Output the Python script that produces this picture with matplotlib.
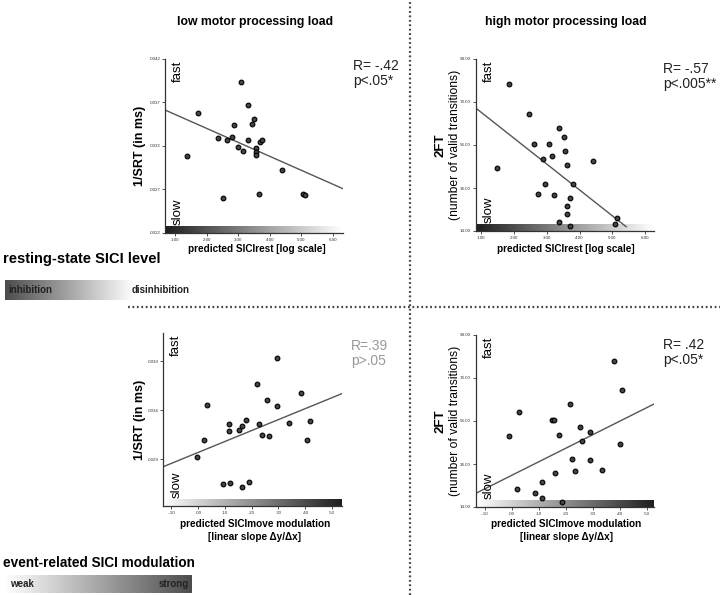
import numpy as np
import matplotlib
matplotlib.use("Agg")
import matplotlib.pyplot as plt
from matplotlib.lines import Line2D

plt.rcParams['font.family'] = ['Liberation Sans', 'DejaVu Sans']

# ---- data ----
# low motor load, resting-state SICI vs 1/SRT
rest_x_low = [1.37, 1.74, 2.51, 2.37, 2.66, 2.79, 2.86, 2.99, 3.09, 3.15, 3.30, 3.32,
              3.45, 3.51, 3.55, 3.56, 3.56, 3.65, 3.69, 3.75, 4.38, 5.06, 5.12]
srt_rest = [.003087, .003584, .002608, .00329, .003272, .003298, .003445, .003191,
            .003938, .003145, .003668, .003264, .003452, .00351, .003179, .003128,
            .003094, .002654, .003244, .003264, .00292, .002654, .002639]
# high motor load, resting-state SICI vs 2FT
rest_x_high = [1.49, 1.85, 2.47, 2.60, 2.88, 2.93, 2.74, 3.07, 3.17, 3.37, 3.51, 3.57,
               3.63, 4.40, 3.79, 3.22, 3.72, 3.63, 3.63, 3.38, 3.71, 5.14, 5.08]
ft_rest = [43.2, 82.2, 68.6, 54.6, 47.6, 35.9, 31.0, 54.6, 48.9, 62.0, 57.9, 51.1,
           44.7, 46.7, 36.0, 30.7, 29.5, 25.5, 22.1, 18.0, 16.3, 20.1, 17.4]
# low motor load, event-related SICI modulation vs 1/SRT
move_x_low = [-0.005, 0.022, 0.032, 0.117, 0.117, 0.154, 0.163, 0.179, 0.221, 0.229,
              0.239, 0.257, 0.264, 0.295, 0.295, 0.341, 0.385, 0.408, 0.417, 0.092,
              0.118, 0.162, 0.191]
srt_move = [.002923, .003094, .003451, .003264, .003183, .003193, .003237, .003301,
            .003665, .00326, .003148, .003509, .003138, .003934, .003444, .003267,
            .00358, .003091, .003291, .002642, .002655, .002611, .002662]
# high motor load, event-related SICI modulation vs 2FT
move_x_high = [-0.011, 0.027, 0.149, 0.156, 0.173, 0.215, 0.223, 0.232, 0.252, 0.258,
               0.288, 0.289, 0.333, 0.378, 0.400, 0.409, 0.158, 0.017, 0.085, 0.112,
               0.112, 0.186]
ft_move = [46.9, 58.0, 54.6, 54.6, 47.6, 62.0, 36.3, 30.9, 51.2, 44.8, 49.0, 35.9,
           31.2, 82.0, 43.3, 68.6, 29.7, 22.2, 20.4, 25.5, 18.0, 16.5]

# regression lines (end points as drawn)
fit_rest_low = ([0.684, 6.316], [.003614, .002709])
fit_rest_high = ([0.84, 5.42], [71.1, 16.0])
fit_move_low = ([-0.131, 0.537], [.002821, .00357])
fit_move_high = ([-0.133, 0.526], [20.4, 61.9])

stats_text = ["R= -.42\np<.05*", "R= -.57\np<.005**", "R=.39\np>.05", "R= .42\np<.05*"]
rest_ticks = [1, 2, 3, 4, 5, 6]
move_ticks = [-.1, 0, .1, .2, .3, .4, .5]
srt_ticks_top = [.0022, .0027, .0032, .0037, .0042]
srt_ticks_bot = [.0024, .0029, .0034, .0039]
ft_ticks = [14, 34, 54, 74, 94]

W, H = 720, 595
fig = plt.figure(figsize=(7.2, 5.95), dpi=100)


def px_axes(x0, y_top, x1, y_bot):
    return fig.add_axes([x0 / W, 1 - y_bot / H, (x1 - x0) / W, (y_bot - y_top) / H])


def style(ax, xlim, ylim, xt, yt, xfmt, yfmt, dark_left):
    for s in ['top', 'right']:
        ax.spines[s].set_visible(False)
    for s in ['left', 'bottom']:
        ax.spines[s].set_color('#333')
        ax.spines[s].set_linewidth(0.9)
    ax.set_xticks(xt)
    ax.set_yticks(yt)
    ax.set_xticklabels([xfmt(v) for v in xt])
    ax.set_yticklabels([yfmt(v) for v in yt])
    ax.tick_params(direction='out', length=2, width=0.6, labelsize=3.2, pad=1.5,
                   colors='#333')
    # gradient bar along the x axis
    g = np.linspace(0.12, 1.0, 256)
    if not dark_left:
        g = g[::-1]
    ax.imshow(g[None, :], cmap='gray', vmin=0, vmax=1, aspect='auto',
              extent=[0, 1, 0, 0.035], transform=ax.transAxes, zorder=0)
    ax.set_xlim(xlim)
    ax.set_ylim(ylim)
    ax.text(0.04, 0.99, 'fast', rotation=90, transform=ax.transAxes,
            ha='left', va='top', fontsize=9.5)
    ax.text(0.04, 0.045, 'slow', rotation=90, transform=ax.transAxes,
            ha='left', va='bottom', fontsize=9.5)


def scatter_fit(ax, x, y, fit):
    ax.plot(fit[0], fit[1], color='#555', lw=1.0, zorder=2)
    ax.plot(x, y, 'o', ms=3.4, mfc='#444', mec='black', mew=0.8, zorder=3)


def rest_fmt(v):
    return '%.2f' % v


def move_fmt(v):
    s = '%.2f' % v
    return s.replace('0.', '.')


def srt_fmt(v):
    return ('%.4f' % v)[1:]


def ft_fmt(v):
    return '%.2f' % v


ax1 = px_axes(165, 59, 343, 233)
scatter_fit(ax1, rest_x_low, srt_rest, fit_rest_low)
style(ax1, (0.684, 6.316), (.0022, .0042), rest_ticks, srt_ticks_top, rest_fmt, srt_fmt, True)

ax2 = px_axes(476, 59, 654, 231)
scatter_fit(ax2, rest_x_high, ft_rest, fit_rest_high)
style(ax2, (0.84, 6.27), (14, 94), rest_ticks, ft_ticks, rest_fmt, ft_fmt, True)

ax3 = px_axes(163, 333, 342, 506)
scatter_fit(ax3, move_x_low, srt_move, fit_move_low)
style(ax3, (-0.131, 0.537), (.00242, .00419), move_ticks, srt_ticks_bot, move_fmt, srt_fmt, False)

ax4 = px_axes(476, 335, 654, 507)
scatter_fit(ax4, move_x_high, ft_move, fit_move_high)
style(ax4, (-0.133, 0.526), (14, 94), move_ticks, ft_ticks, move_fmt, ft_fmt, False)


def ftext(x, y, s, **kw):
    fig.text(x / W, 1 - y / H, s, **kw)


# titles
ftext(255, 22, 'low motor processing load', ha='center', va='center', fontsize=8.8, fontweight='bold')
ftext(566, 22, 'high motor processing load', ha='center', va='center', fontsize=8.8, fontweight='bold')

# stats
for (x, y), s, c in zip([(353, 59), (663, 62), (351, 339), (663, 338)], stats_text,
                        ['#222', '#222', '#999', '#222']):
    ftext(x, y, s, ha='left', va='top', fontsize=10, color=c, linespacing=1.1)

# y labels
ftext(140, 146, '1/SRT (in ms)', rotation=90, ha='center', va='center', fontsize=9, fontweight='bold')
ftext(140, 420, '1/SRT (in ms)', rotation=90, ha='center', va='center', fontsize=9, fontweight='bold')
for yc in (145, 421):
    ftext(440, yc, '2FT', rotation=90, ha='center', va='center', fontsize=9.5, fontweight='bold')
    ftext(455, yc, '(number of valid transitions)', rotation=90, ha='center', va='center', fontsize=8.7)

# x labels
ftext(257, 249, 'predicted SICIrest [log scale]', ha='center', va='center', fontsize=7.2, fontweight='bold')
ftext(566, 249, 'predicted SICIrest [log scale]', ha='center', va='center', fontsize=7.2, fontweight='bold')
for xc in (255, 566):
    ftext(xc, 524, 'predicted SICImove modulation', ha='center', va='center', fontsize=7.2, fontweight='bold')
    ftext(xc, 537, '[linear slope \u0394y/\u0394x]', ha='center', va='center', fontsize=7.2, fontweight='bold')

# separators
fig.add_artist(Line2D([410 / W, 410 / W], [0, 1], transform=fig.transFigure,
                      color='#444', lw=1.6, linestyle=(0, (0.8, 1.2))))
fig.add_artist(Line2D([128 / W, 1], [1 - 307 / H, 1 - 307 / H], transform=fig.transFigure,
                      color='#444', lw=1.6, linestyle=(0, (0.8, 1.2))))

# legends on the left
ftext(3, 259, 'resting-state SICI level', ha='left', va='center', fontsize=10.5, fontweight='bold')
lax1 = px_axes(5, 280, 215, 300)
g = np.concatenate([np.linspace(0.3, 1.0, 130), np.ones(80)])
lax1.imshow(g[None, :], cmap='gray', vmin=0, vmax=1, aspect='auto')
lax1.axis('off')
ftext(8, 290, 'inhibition', ha='left', va='center', fontsize=7, fontweight='bold', color='#222')
ftext(132, 290, 'disinhibition', ha='left', va='center', fontsize=7, fontweight='bold', color='#222')

ftext(3, 563, 'event-related SICI modulation', ha='left', va='center', fontsize=9.8, fontweight='bold')
lax2 = px_axes(5, 575, 192, 593)
g2 = np.linspace(1.0, 0.3, 256)
lax2.imshow(g2[None, :], cmap='gray', vmin=0, vmax=1, aspect='auto')
lax2.axis('off')
ftext(10, 584, 'weak', ha='left', va='center', fontsize=7, fontweight='bold', color='#222')
ftext(189, 584, 'strong', ha='right', va='center', fontsize=7, fontweight='bold', color='#222')

fig.savefig('out.png', dpi=100)
